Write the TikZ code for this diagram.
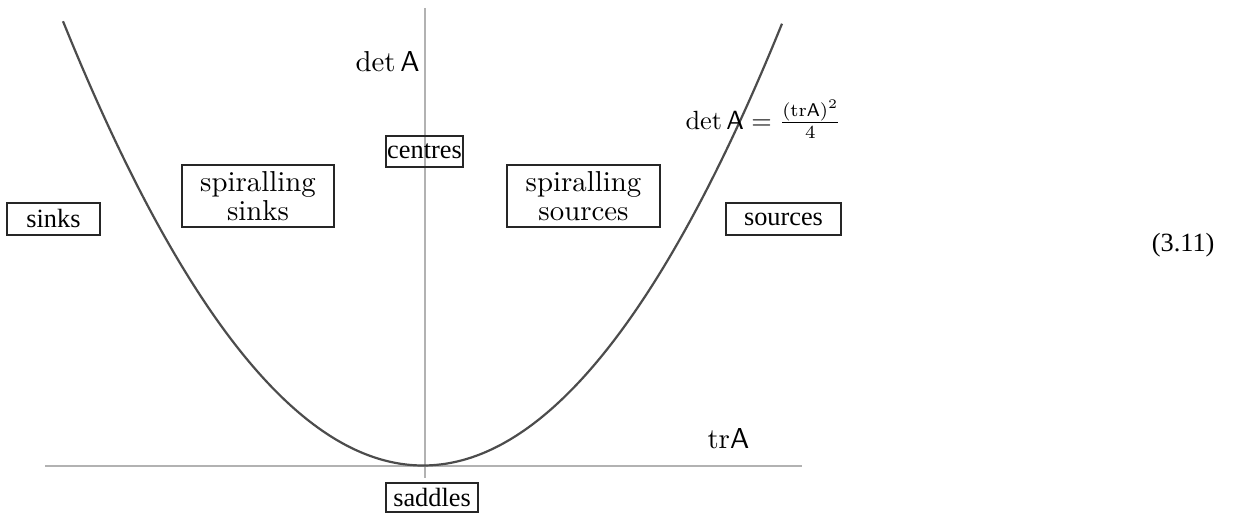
\documentclass[tikz,border=0pt]{standalone}
\usepackage[no-math]{fontspec}
\newfontfamily\timesfont{Liberation Serif}
\begin{document}
\begin{tikzpicture}[x=0.38pt,y=-0.38pt,
  axis/.style={draw=black!30,line width=1.5*0.38pt},
  curve/.style={draw=black!70,line width=2.2*0.38pt},
  tbox/.style={draw=black!85,line width=0.4pt,inner sep=0pt,align=center,font=\timesfont},
  lbox/.style={draw=black!85,line width=0.4pt,inner sep=0pt,align=center,font=\fontsize{10.95}{11}\rmfamily\selectfont},
  lab/.style={inner sep=0pt,font=\fontsize{10.95}{13}\selectfont}]
\useasboundingbox (0,0) rectangle (1245,514);
% axes
\coordinate (vtop) at (425,8);
\coordinate (vbot) at (425,478);
\coordinate (hl) at (45,466);
\coordinate (hr) at (802,466);
\draw[axis] (vtop) -- (vbot);
\draw[axis] (hl) -- (hr);
% parabola
\draw[curve,smooth] plot[domain=-360:359,samples=80] ({\x+423},{465.5-(\x/17.08)*(\x/17.08)});
% boxes
\node[tbox,minimum width={93*0.38pt},minimum height={32*0.38pt}] (sinks) at (53.5,219) {sinks};
\node[lbox,minimum width={152*0.38pt},minimum height={62*0.38pt}] (ssinks) at (258,196) {spiralling\\sinks};
\node[tbox,minimum width={77*0.38pt},minimum height={31*0.38pt}] (centres) at (424.5,151.5) {centres};
\node[lbox,minimum width={153*0.38pt},minimum height={62*0.38pt}] (ssources) at (583.5,196) {spiralling\\sources};
\node[tbox,minimum width={115*0.38pt},minimum height={32*0.38pt}] (sources) at (783.5,219) {sources};
\node[tbox,minimum width={92*0.38pt},minimum height={29*0.38pt}] (saddles) at (432,497.5) {saddles};
% labels
\node[lab,anchor=base west] (detA) at (355,72) {$\det\mathsf{A}$};
\node[lab,anchor=west,font=\fontsize{10}{12}\selectfont] (formula) at (685,119) {$\det\mathsf{A}=\frac{(\mathrm{tr}\mathsf{A})^2}{4}$};
\node[lab,anchor=base west] (trA) at (707,449) {$\mathrm{tr}\mathsf{A}$};
\node[lab,anchor=east,font=\timesfont] (eqno) at (1215,245) {(3.11)};
\end{tikzpicture}
\end{document}
